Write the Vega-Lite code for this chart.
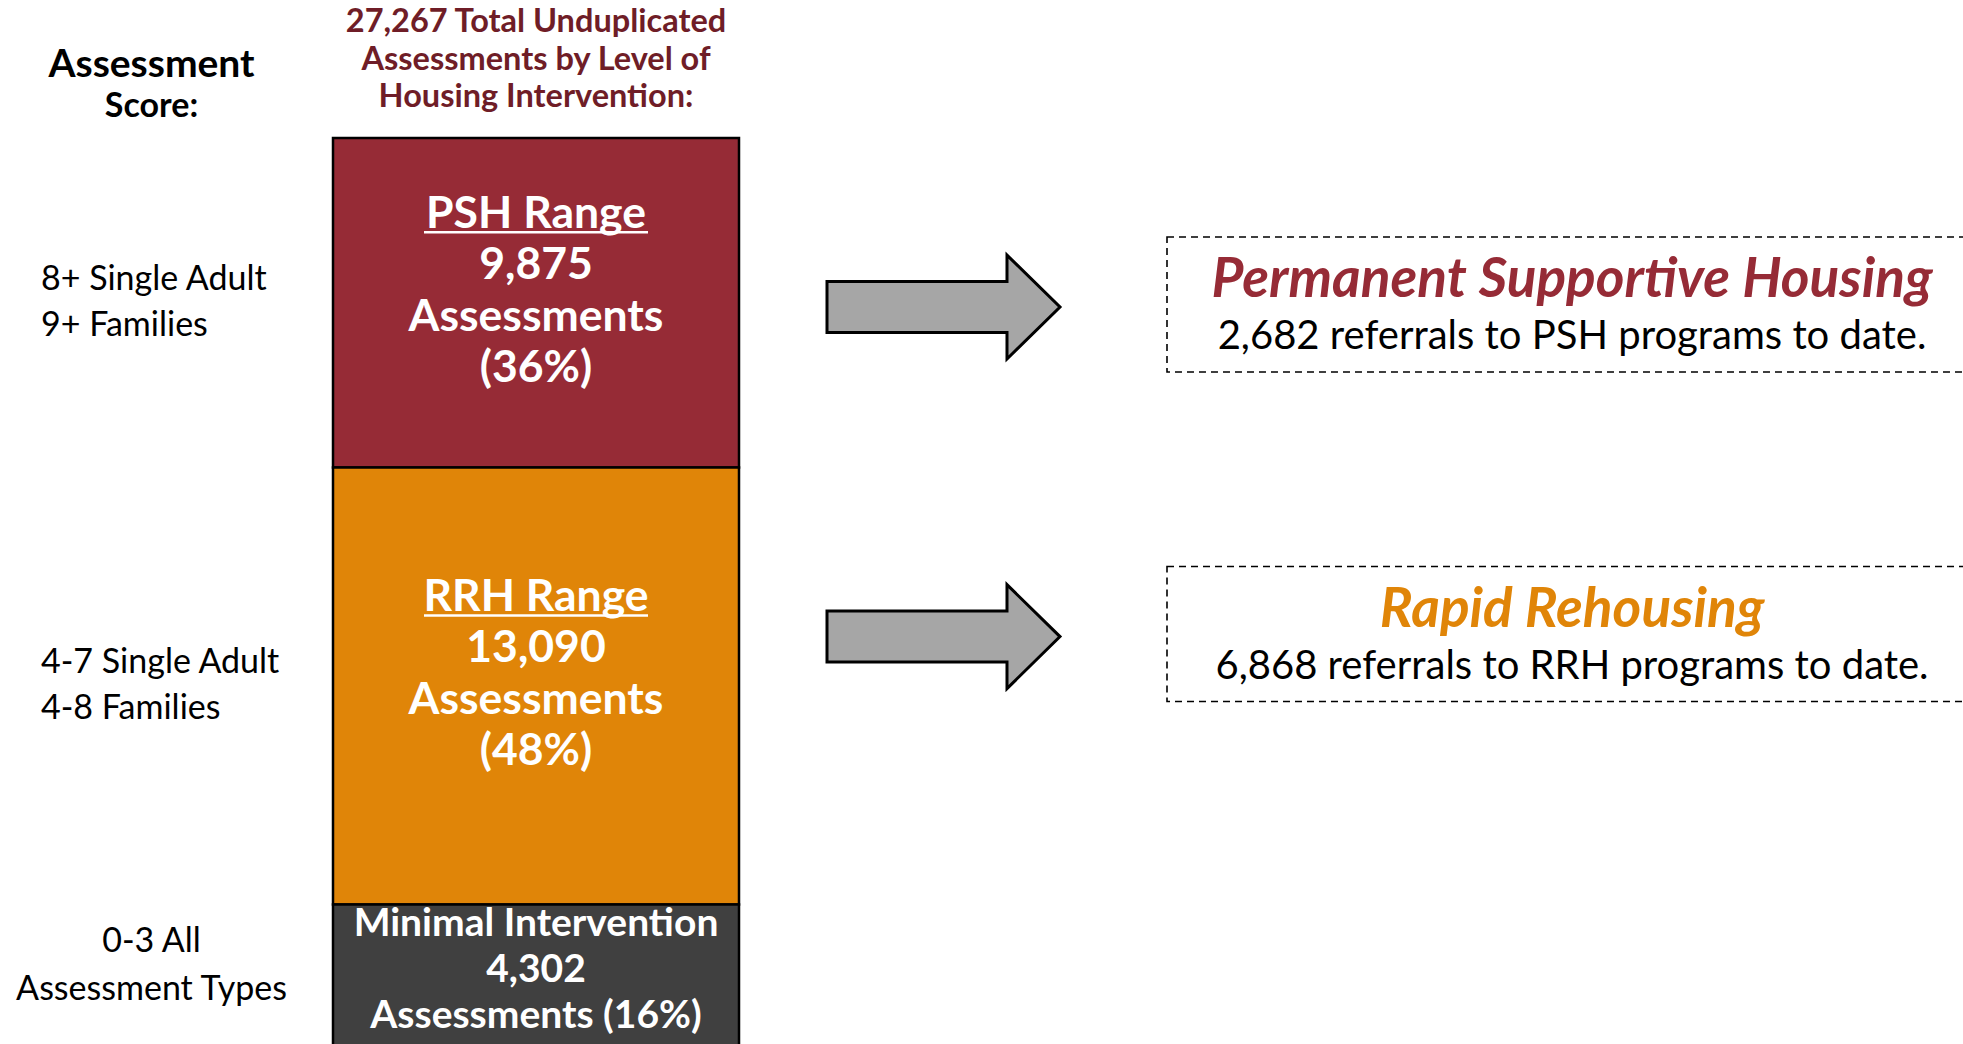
{
  "$schema": "https://vega.github.io/schema/vega-lite/v6.json",
  "width": 1963,
  "height": 1044,
  "autosize": {"type": "none"},
  "padding": 0,
  "background": "white",
  "config": {"view": {"stroke": null}},
  "data": {
    "values": [
      {"level": "PSH", "score_min": 8, "count": 9875, "bar_text": "PSH Range\n9,875\nAssessments\n(36%)", "score_text": "8+ Single Adult\n9+ Families", "referrals": 2682, "referral_title": "Permanent Supportive Housing", "referral_text": "2,682 referrals to PSH programs to date."},
      {"level": "RRH", "score_min": 4, "count": 13090, "bar_text": "RRH Range\n13,090\nAssessments\n(48%)", "score_text": "4-7 Single Adult\n4-8 Families", "referrals": 6868, "referral_title": "Rapid Rehousing", "referral_text": "6,868 referrals to RRH programs to date."},
      {"level": "Minimal", "score_min": 0, "count": 4302, "bar_text": "Minimal Intervention\n4,302\nAssessments (16%)", "score_text": "0-3 All\nAssessment Types", "referrals": null, "referral_title": null, "referral_text": null}
    ]
  },
  "transform": [
    {"stack": "count", "groupby": [], "sort": [{"field": "score_min", "order": "ascending"}], "as": ["lo", "hi"]},
    {"fold": ["lo", "hi"], "as": ["edge", "pos"]},
    {"joinaggregate": [{"op": "mean", "field": "pos", "as": "mid"}], "groupby": ["level"]},
    {"filter": "datum.edge === 'lo'"}
  ],
  "resolve": {"scale": {"x": "independent"}},
  "layer": [
    {
      "mark": {"type": "bar", "stroke": "black", "strokeWidth": 2.5},
      "encoding": {
        "x": {"datum": "All assessments", "type": "nominal", "scale": {"type": "band", "range": [333, 739], "paddingInner": 0, "paddingOuter": 0}, "axis": null},
        "y": {"field": "lo", "type": "quantitative", "scale": {"nice": false, "zero": true, "range": [1048, 138]}, "axis": null},
        "y2": {"field": "hi"},
        "color": {"field": "level", "type": "nominal", "scale": {"domain": ["PSH", "RRH", "Minimal"], "range": ["#962b36", "#e08508", "#404040"]}, "legend": null}
      }
    },
    {
      "transform": [{"filter": {"field": "level", "oneOf": ["PSH", "RRH"]}}],
      "mark": {"type": "text", "font": "Lato", "fontWeight": "bold", "fontSize": 44.5, "lineHeight": 51.5, "lineBreak": "\n", "baseline": "middle", "align": "center", "fill": "white", "dy": -88},
      "encoding": {
        "x": {"datum": "All assessments", "type": "nominal", "scale": {"type": "point", "range": [333, 739]}, "axis": null},
        "y": {"field": "mid", "type": "quantitative", "axis": null},
        "text": {"field": "bar_text", "type": "nominal"}
      }
    },
    {
      "transform": [{"filter": {"field": "level", "oneOf": ["Minimal"]}}],
      "mark": {"type": "text", "font": "Lato", "fontWeight": "bold", "fontSize": 39, "lineHeight": 45.7, "lineBreak": "\n", "baseline": "middle", "align": "center", "fill": "white", "dy": -52},
      "encoding": {
        "x": {"datum": "All assessments", "type": "nominal", "scale": {"type": "point", "range": [333, 739]}, "axis": null},
        "y": {"field": "mid", "type": "quantitative", "axis": null},
        "text": {"field": "bar_text", "type": "nominal"}
      }
    },
    {
      "transform": [{"filter": {"field": "level", "oneOf": ["PSH", "RRH"]}}],
      "mark": {"type": "point", "shape": "M -1 -0.63 L 1 -0.63", "size": 50176, "filled": false, "stroke": "white", "strokeWidth": 2.5, "opacity": 1},
      "encoding": {
        "x": {"datum": "All assessments", "type": "nominal", "scale": {"type": "point", "range": [333, 739]}, "axis": null},
        "y": {"field": "mid", "type": "quantitative", "axis": null}
      }
    },
    {
      "transform": [{"filter": {"field": "level", "oneOf": ["PSH", "RRH"]}}],
      "mark": {"type": "text", "font": "Lato", "fontSize": 34, "lineHeight": 46, "lineBreak": "\n", "baseline": "middle", "align": "left", "fill": "black", "dy": -23},
      "encoding": {
        "x": {"datum": "Assessment Score", "type": "nominal", "scale": {"type": "point", "range": [41, 262], "align": 0}, "axis": null},
        "y": {"field": "mid", "type": "quantitative", "axis": null},
        "text": {"field": "score_text", "type": "nominal"}
      }
    },
    {
      "transform": [{"filter": {"field": "level", "oneOf": ["Minimal"]}}],
      "mark": {"type": "text", "font": "Lato", "fontSize": 34, "lineHeight": 47.6, "lineBreak": "\n", "baseline": "middle", "align": "center", "fill": "black", "dy": -34},
      "encoding": {
        "x": {"datum": "Assessment Score", "type": "nominal", "scale": {"type": "point", "range": [41, 262]}, "axis": null},
        "y": {"field": "mid", "type": "quantitative", "axis": null},
        "text": {"field": "score_text", "type": "nominal"}
      }
    },
    {
      "mark": {"type": "text", "font": "Lato", "fontWeight": "bold", "fontSize": 39, "baseline": "alphabetic", "align": "center", "fill": "black", "dy": -61, "text": "Assessment"},
      "encoding": {
        "x": {"datum": "Assessment Score", "type": "nominal", "scale": {"type": "point", "range": [41, 262]}, "axis": null},
        "y": {"aggregate": "max", "field": "hi", "type": "quantitative", "axis": null}
      }
    },
    {
      "mark": {"type": "text", "font": "Lato", "fontWeight": "bold", "fontSize": 34, "baseline": "alphabetic", "align": "center", "fill": "black", "dy": -21, "text": "Score:"},
      "encoding": {
        "x": {"datum": "Assessment Score", "type": "nominal", "scale": {"type": "point", "range": [41, 262]}, "axis": null},
        "y": {"aggregate": "max", "field": "hi", "type": "quantitative", "axis": null}
      }
    },
    {
      "mark": {"type": "text", "font": "Lato", "fontWeight": "bold", "fontSize": 32.5, "lineHeight": 37.5, "baseline": "alphabetic", "align": "center", "fill": "#6f1d27", "dy": -106, "text": ["27,267 Total Unduplicated", "Assessments by Level of", "Housing Intervention:"]},
      "encoding": {
        "x": {"datum": "All assessments", "type": "nominal", "scale": {"type": "point", "range": [333, 739]}, "axis": null},
        "y": {"aggregate": "max", "field": "hi", "type": "quantitative", "axis": null}
      }
    },
    {
      "transform": [{"filter": {"field": "level", "oneOf": ["PSH", "RRH"]}}],
      "mark": {"type": "point", "shape": "M -1 1.232 L 0.545 1.232 L 0.545 1.005 L 1 1.451 L 0.545 1.897 L 0.545 1.67 L -1 1.67 Z", "size": 54289, "filled": true, "fill": "#a6a6a6", "stroke": "black", "strokeWidth": 3, "opacity": 1},
      "encoding": {
        "x": {"datum": "Referral", "type": "nominal", "scale": {"type": "point", "range": [827, 1060]}, "axis": null},
        "y": {"field": "hi", "type": "quantitative", "axis": null}
      }
    },
    {
      "transform": [{"filter": {"field": "level", "oneOf": ["PSH", "RRH"]}}],
      "mark": {"type": "point", "shape": "M -1 0.2444 L 1 0.2444 L 1 0.5777 L -1 0.5777 Z", "size": 656100, "filled": false, "stroke": "black", "strokeWidth": 1.6, "strokeDash": [7, 5], "opacity": 1},
      "encoding": {
        "x": {"datum": "Program", "type": "nominal", "scale": {"type": "point", "range": [1167, 1977]}, "axis": null},
        "y": {"field": "hi", "type": "quantitative", "axis": null}
      }
    },
    {
      "transform": [{"filter": {"field": "level", "oneOf": ["PSH", "RRH"]}}],
      "mark": {"type": "text", "font": "Lato", "fontWeight": "bold", "fontStyle": "italic", "fontSize": 55, "baseline": "alphabetic", "align": "center", "dy": 159},
      "encoding": {
        "x": {"datum": "Program", "type": "nominal", "scale": {"type": "point", "range": [1167, 1977]}, "axis": null},
        "y": {"field": "hi", "type": "quantitative", "axis": null},
        "text": {"field": "referral_title", "type": "nominal"},
        "color": {"field": "level", "type": "nominal", "legend": null}
      }
    },
    {
      "transform": [{"filter": {"field": "level", "oneOf": ["PSH", "RRH"]}}],
      "mark": {"type": "text", "font": "Lato", "fontSize": 40, "baseline": "alphabetic", "align": "center", "fill": "black", "dy": 211},
      "encoding": {
        "x": {"datum": "Program", "type": "nominal", "scale": {"type": "point", "range": [1167, 1977]}, "axis": null},
        "y": {"field": "hi", "type": "quantitative", "axis": null},
        "text": {"field": "referral_text", "type": "nominal"}
      }
    }
  ]
}
